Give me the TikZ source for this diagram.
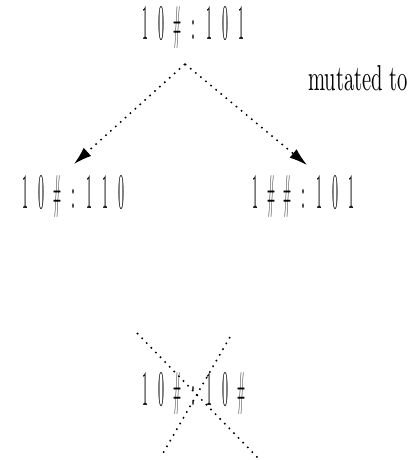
\documentclass[tikz,border=0pt]{standalone}
\usetikzlibrary{arrows.meta}
\newcommand\cc[1]{\makebox[16pt]{\resizebox{6pt}{33pt}{#1}}}
\newcommand\cw[1]{\makebox[16pt]{\resizebox{8pt}{33pt}{#1}}}
\newcommand\cl{\makebox[16pt]{\resizebox{4pt}{19pt}{:}}}
\begin{document}
\begin{tikzpicture}[x=1pt,y=-1pt,
  lbl/.style={inner sep=0pt,outer sep=0pt},
  dotline/.style={line width=1.5pt,dash pattern=on 1.6pt off 5pt},
  arr/.style={dotline,-{Latex[length=18pt,width=11pt]}}]
\useasboundingbox (0,0) rectangle (414,460);
\node[lbl] (top) at (193,28) {\cc{1}\cc{0}\cw{\#}\cl\cc{1}\cc{0}\cc{1}};
\coordinate (apex) at (185,64);
\node[lbl] (left) at (73,197) {\cc{1}\cc{0}\cw{\#}\cl\cc{1}\cc{1}\cc{0}};
\node[lbl] (right) at (303,197) {\cc{1}\cw{\#}\cw{\#}\cl\cc{1}\cc{0}\cc{1}};
\node[lbl] (mut) at (358,78) {\resizebox{100pt}{25pt}{mutated to}};
\coordinate (lend) at (74,164);
\coordinate (rend) at (307,165);
\draw[arr] (apex) -- (lend);
\draw[arr] (apex) -- (rend);
\node[lbl] (bot) at (193,394) {\cc{1}\cc{0}\cw{\#}\cl\cc{1}\cc{0}\cw{\#}};
\coordinate (c1a) at (137,333);
\coordinate (c1b) at (258,458);
\coordinate (c2a) at (230,337);
\coordinate (c2b) at (162,455);
\draw[dotline] (c1a) -- (c1b);
\draw[dotline] (c2a) -- (c2b);
\end{tikzpicture}
\end{document}
